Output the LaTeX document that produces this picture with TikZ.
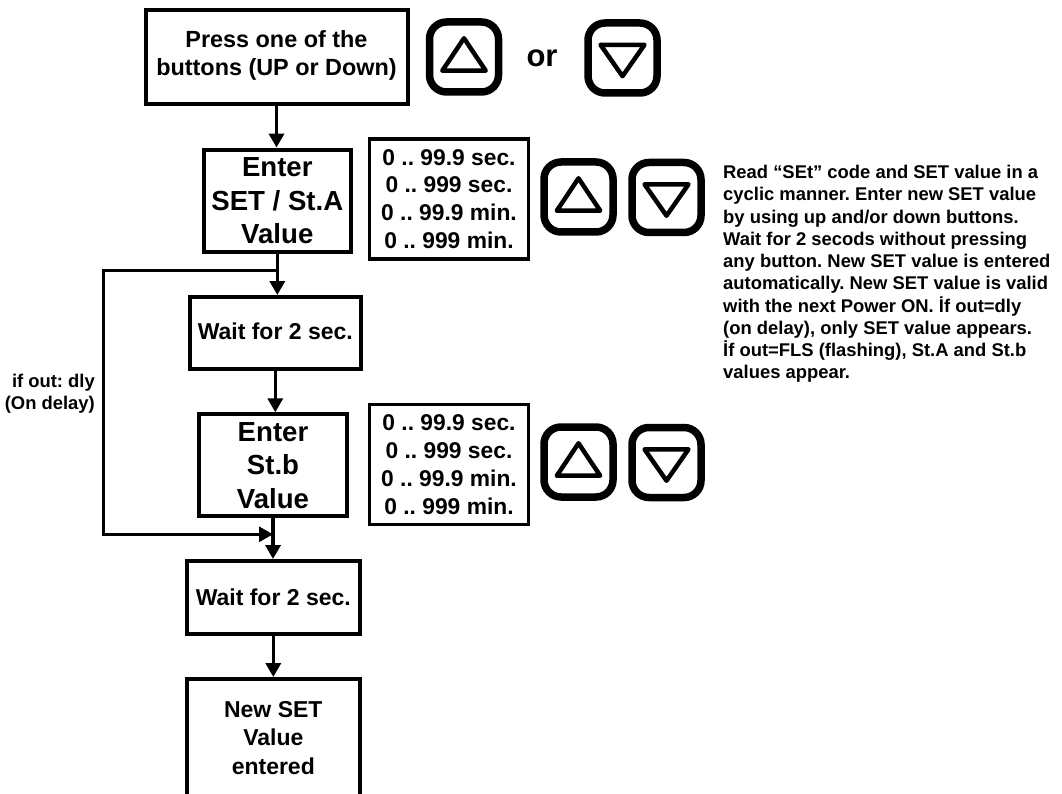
\documentclass[tikz,border=0pt]{standalone}
\usepackage{fontspec}
\setmainfont{Liberation Sans}
\frenchspacing
\usetikzlibrary{arrows.meta}
\tikzset{
  x=1pt,y=-1pt,
  flowbox/.style={draw=black,line width=4pt,fill=white,align=center,inner sep=0pt,font=\fontsize{27.6}{33.5}\selectfont\bfseries},
  smallbox/.style={flowbox,font=\fontsize{23.4}{27.5}\selectfont\bfseries},
  waitbox/.style={flowbox,font=\fontsize{23}{28.5}\selectfont\bfseries},
  rangebox/.style={draw=black,line width=3.5pt,fill=white,align=center,inner sep=0pt,minimum width=159pt,minimum height=120pt,font=\fontsize{22.8}{27.8}\selectfont\bfseries},
  buttonbox/.style={draw=black,line width=7.5pt,rounded corners=17pt,minimum width=69pt,minimum height=70pt,inner sep=0pt},
  tri/.style={draw=black,line width=4.5pt,line join=round},
  flow/.style={draw=black,line width=3.5pt,-{Triangle[length=14pt,width=15pt]}},
  loopline/.style={draw=black,line width=3pt},
  looparrow/.style={loopline,-{Triangle[length=14pt,width=15pt]}},
  note/.style={align=left,inner sep=0pt,anchor=north west,font=\fontsize{18.4}{22.25}\selectfont\bfseries},
  sidelabel/.style={align=right,inner sep=0pt,anchor=east,font=\fontsize{18.4}{22}\selectfont\bfseries}
}
\newcommand{\upbutton}[3]{%
  \node[buttonbox] (#1) at (#2,#3) {};
  \draw[tri] ([shift={(0,-18.7)}]#1.center) -- ([shift={(-21.7,13.7)}]#1.center) -- ([shift={(21.7,13.7)}]#1.center) -- cycle;}
\newcommand{\downbutton}[3]{%
  \node[buttonbox] (#1) at (#2,#3) {};
  \draw[tri] ([shift={(0,18.2)}]#1.center) -- ([shift={(-22,-13.2)}]#1.center) -- ([shift={(22,-13.2)}]#1.center) -- cycle;}
\begin{document}
\begin{tikzpicture}
\useasboundingbox (0,0) rectangle (1062,794);
\fill[white] (0,0) rectangle (1062,794);

\node[smallbox,minimum width=262pt,minimum height=94pt] (press) at (276.5,57) {Press one of the\\buttons (UP or Down)\\[-20pt]\mbox{}};
\node[flowbox,minimum width=147.5pt,minimum height=102.5pt] (enterA) at (277.3,200.8) {Enter\\SET / St.A\\Value};
\node[waitbox,minimum width=171.3pt,minimum height=72pt] (wait1) at (275.3,333) {Wait for 2 sec.\\[-24pt]\mbox{}};
\node[flowbox,minimum width=147.7pt,minimum height=102pt] (enterB) at (273,465.3) {Enter\\St.b\\Value};
\node[waitbox,minimum width=172.7pt,minimum height=73pt] (wait2) at (273.3,597.5) {Wait for 2 sec.};
\node[waitbox,minimum width=172.7pt,minimum height=118pt] (newset) at (273.3,738) {New SET\\Value\\entered};

\node[rangebox] (rangeA) at (449,199) {0 .. 99.9 sec.\\0 .. 999 sec.\\0 .. 99.9 min.\\0 .. 999 min.};
\node[rangebox] (rangeB) at (449,464.5) {0 .. 99.9 sec.\\0 .. 999 sec.\\0 .. 99.9 min.\\0 .. 999 min.};

\upbutton{upA}{464}{57}
\node[font=\fontsize{31}{34}\selectfont\bfseries,inner sep=0pt] (ortext) at (542,58) {or};
\downbutton{downA}{622.5}{58}
\upbutton{upB}{578.5}{197}
\downbutton{downB}{666.5}{197.5}
\upbutton{upC}{578.5}{462}
\downbutton{downC}{666.5}{462.5}

\node[note] (notetext) at (723,165) {Read “SEt” code and SET value in a\\cyclic manner. Enter new SET value\\by using up and/or down buttons.\\Wait for 2 secods without pressing\\any button. New SET value is entered\\automatically. New SET value is valid\\with the next Power ON. İf out=dly\\(on delay), only SET value appears.\\İf out=FLS (flashing), St.A and St.b\\values appear.};
\node[sidelabel] (iflabel) at (95,394) {if out: dly\\(On delay)};

\draw[flow] (press.south) -- (press.south |- enterA.north);
\draw[flow] (enterA.south) -- (enterA.south |- wait1.north);
\draw[flow] (wait1.south) -- (wait1.south |- enterB.north);
\draw[flow] (enterB.south) -- (enterB.south |- wait2.north);
\draw[flow] (wait2.south) -- (wait2.south |- newset.north);
\coordinate (loopstart) at ([yshift=-16pt]enterA.south);
\coordinate (loopturn) at ([yshift=-16pt]enterB.south);
\draw[looparrow] (loopstart) -- (loopstart -| 103,0) -- (loopturn -| 103,0) -- (loopturn);
\end{tikzpicture}
\end{document}
